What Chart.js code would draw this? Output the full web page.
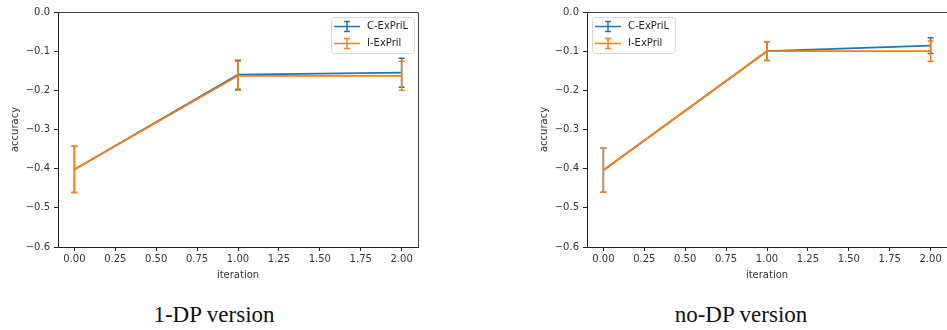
<!DOCTYPE html>
<html>
<head>
<meta charset="utf-8">
<script src="https://cdn.jsdelivr.net/npm/chart.js@4.4.1/dist/chart.umd.min.js"></script>
<style>
  body { margin: 0; background: #fff; width: 947px; height: 330px; position: relative; overflow: hidden; }
  .panel { position: absolute; top: 0; width: 419px; height: 290px; }
  .caption { position: absolute; top: 303px; font-family: "Liberation Serif", serif; font-size: 23px; line-height: 23px; white-space: nowrap; transform: translateX(-50%); color: #111; }
</style>
</head>
<body>
<div class="panel" style="left:0"><canvas id="dpChart" width="419" height="290"></canvas></div>
<div class="panel" style="left:529px"><canvas id="noDpChart" width="419" height="290"></canvas></div>
<div class="caption" style="left:214px">1-DP version</div>
<div class="caption" style="left:741px">no-DP version</div>
<script>
// Data
const iterations = [0, 1, 2];
const seriesNames = ["C-ExPriL", "I-ExPril"];
const seriesColors = ["#1f77b4", "#ff7f0e"];
const xTickValues = [0, 0.25, 0.5, 0.75, 1, 1.25, 1.5, 1.75, 2];
const yTickValues = [0, -0.1, -0.2, -0.3, -0.4, -0.5, -0.6];

// 1-DP version
const dpCMean = [-0.402, -0.160, -0.155];
const dpCErr = [0.059, 0.037, 0.037];
const dpIMean = [-0.402, -0.163, -0.163];
const dpIErr = [0.059, 0.037, 0.037];

// no-DP version
const noDpCMean = [-0.404, -0.100, -0.086];
const noDpCErr = [0.056, 0.024, 0.020];
const noDpIMean = [-0.404, -0.100, -0.100];
const noDpIErr = [0.056, 0.024, 0.026];

Chart.defaults.font.family = '"DejaVu Sans", sans-serif';
Chart.defaults.font.size = 10;
Chart.defaults.color = '#333';

// Vertical error bars with caps, drawn right after each dataset's line
const errorBars = {
    id: 'errorBars',
    afterDatasetDraw(chart, args) {
        const ds = chart.data.datasets[args.index];
        if (!ds.errors) return;
        const { ctx, scales: { x, y } } = chart;
        ctx.save();
        ctx.strokeStyle = ds.borderColor;
        ctx.lineWidth = 1.5;
        ds.data.forEach((p, i) => {
            const px = x.getPixelForValue(p.x);
            const top = y.getPixelForValue(p.y + ds.errors[i]);
            const bottom = y.getPixelForValue(p.y - ds.errors[i]);
            ctx.beginPath();
            ctx.moveTo(px, top); ctx.lineTo(px, bottom);
            ctx.moveTo(px - 3, top); ctx.lineTo(px + 3, top);
            ctx.moveTo(px - 3, bottom); ctx.lineTo(px + 3, bottom);
            ctx.stroke();
        });
        ctx.restore();
    }
};

// Top and right spines (left/bottom come from the axis borders)
const frame = {
    id: 'frame',
    beforeDatasetsDraw(chart) {
        const { ctx, chartArea: a } = chart;
        ctx.save();
        ctx.strokeStyle = '#444';
        ctx.lineWidth = 1;
        ctx.beginPath();
        ctx.moveTo(a.left, a.top + 0.5);
        ctx.lineTo(a.right + 0.5, a.top + 0.5);
        ctx.lineTo(a.right + 0.5, a.bottom);
        ctx.stroke();
        ctx.restore();
    }
};

// matplotlib-like legend box inside the plot
const boxLegend = {
    id: 'boxLegend',
    afterDraw(chart, args, opts) {
        const { ctx, chartArea } = chart;
        const w = 83, h = 36;
        const left = opts.corner === 'right' ? chartArea.right - 4 - w : chartArea.left + 5;
        const top = chartArea.top + 5;
        ctx.save();
        ctx.beginPath();
        ctx.roundRect(left + 0.5, top + 0.5, w, h, 3);
        ctx.fillStyle = 'rgba(255,255,255,0.85)';
        ctx.fill();
        ctx.strokeStyle = '#d8d8d8';
        ctx.lineWidth = 1;
        ctx.stroke();
        chart.data.datasets.forEach((ds, i) => {
            const rowY = top + 9.5 + i * 17;
            ctx.strokeStyle = ds.borderColor;
            ctx.lineWidth = 1.5;
            ctx.beginPath();
            ctx.moveTo(left + 3, rowY); ctx.lineTo(left + 29, rowY);
            ctx.moveTo(left + 16, rowY - 5); ctx.lineTo(left + 16, rowY + 5);
            ctx.moveTo(left + 13, rowY - 5); ctx.lineTo(left + 19, rowY - 5);
            ctx.moveTo(left + 13, rowY + 5); ctx.lineTo(left + 19, rowY + 5);
            ctx.stroke();
            ctx.fillStyle = '#262626';
            ctx.font = '10px "DejaVu Sans"';
            ctx.textBaseline = 'middle';
            ctx.fillText(ds.label, left + 36, rowY);
        });
        ctx.restore();
    }
};

function makeDataset(i, means, errs) {
    return {
        label: seriesNames[i],
        data: iterations.map((x, k) => ({ x: x, y: means[k] })),
        errors: errs,
        borderColor: seriesColors[i],
        backgroundColor: seriesColors[i],
        borderWidth: 1.8,
        pointRadius: 0,
        tension: 0,
        fill: false,
        order: 2 - i // second series (orange) ends up on top, as in matplotlib
    };
}

function makeChart(canvasId, cMean, cErr, iMean, iErr, corner) {
    const ctx = document.getElementById(canvasId).getContext('2d');
    return new Chart(ctx, {
        type: 'line',
        data: {
            datasets: [makeDataset(0, cMean, cErr), makeDataset(1, iMean, iErr)]
        },
        plugins: [frame, errorBars, boxLegend],
        options: {
            responsive: false,
            animation: false,
            devicePixelRatio: 1,
            layout: { padding: { top: 12, right: 1, left: 0, bottom: 0 } },
            plugins: {
                legend: { display: false },
                tooltip: { enabled: false },
                boxLegend: { corner: corner }
            },
            scales: {
                x: {
                    type: 'linear',
                    min: -0.1,
                    max: 2.1,
                    afterFit: s => { s.height = 43; },
                    afterBuildTicks: s => { s.ticks = xTickValues.map(v => ({ value: v })); },
                    ticks: {
                        callback: v => v.toFixed(2),
                        padding: 2,
                        autoSkip: false,
                        maxRotation: 0,
                        color: '#333'
                    },
                    grid: { drawOnChartArea: false, drawTicks: true, tickLength: 4, color: '#222' },
                    border: { display: true, color: '#222', width: 1 },
                    title: { display: true, text: 'iteration', color: '#333', padding: { top: 0, bottom: 9 } }
                },
                y: {
                    min: -0.6,
                    max: 0,
                    afterFit: s => { s.width = 58; },
                    afterBuildTicks: s => { s.ticks = yTickValues.map(v => ({ value: v })); },
                    ticks: {
                        callback: v => v.toFixed(1).replace('-', '\u2212'),
                        padding: 4,
                        autoSkip: false,
                        color: '#333'
                    },
                    grid: { drawOnChartArea: false, drawTicks: true, tickLength: 4, color: '#222' },
                    border: { display: true, color: '#222', width: 1 },
                    title: { display: true, text: 'accuracy', color: '#333', padding: { top: 9, bottom: 0 } }
                }
            }
        }
    });
}

makeChart('dpChart', dpCMean, dpCErr, dpIMean, dpIErr, 'right');
makeChart('noDpChart', noDpCMean, noDpCErr, noDpIMean, noDpIErr, 'left');
</script>
</body>
</html>
